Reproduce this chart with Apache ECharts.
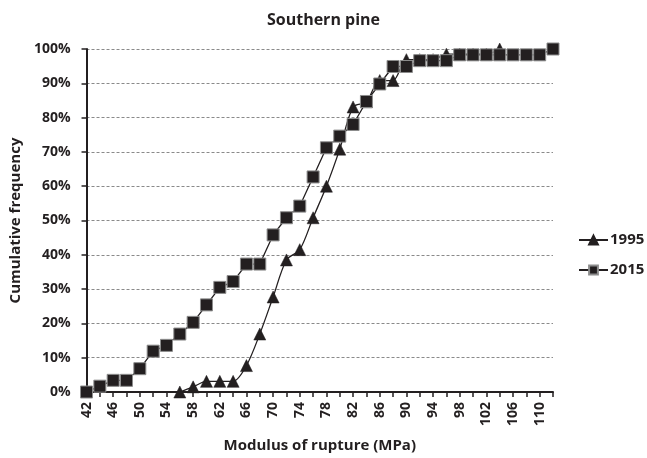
<!DOCTYPE html>
<html><head><meta charset="utf-8">
<script src="https://cdn.jsdelivr.net/npm/echarts@6/dist/echarts.min.js"></script>
<style>html,body{margin:0;padding:0;background:#fff}#c{width:647px;height:458px}</style>
</head><body><div id="c"></div>
<script>
var categories = ['42','44','46','48','50','52','54','56','58','60','62','64','66','68','70','72','74','76','78','80','82','84','86','88','90','92','94','96','98','100','102','104','106','108','110','112'];
// cumulative frequency (%)
var s1995 = [null,null,null,null,null,null,null,0,1.5,3.1,3.1,3.1,7.7,16.9,27.7,38.5,41.5,50.8,60.0,70.8,83.1,84.6,90.8,90.8,96.9,96.9,96.9,98.5,98.5,98.5,98.5,100];
var s2015 = [0,1.7,3.4,3.4,6.8,11.9,13.6,16.9,20.3,25.4,30.5,32.2,37.3,37.3,45.8,50.8,54.2,62.7,71.2,74.6,78.0,84.7,89.8,94.9,94.9,96.6,96.6,96.6,98.3,98.3,98.3,98.3,98.3,98.3,98.3,100];
var yTicks = [0,10,20,30,40,50,60,70,80,90,100];

var FONT = 'Open Sans';
var INK = '#231f20';
var chart = echarts.init(document.getElementById('c'), null, {renderer:'canvas'});
chart.setOption({
  animation:false,
  backgroundColor:'#fff',
  title:{text:'Southern pine', left:'center', top:7, textStyle:{fontFamily:FONT, fontWeight:'bold', fontSize:16, color:INK}},
  grid:{left:85, right:94, top:49, bottom:66, containLabel:false},
  legend:{orient:'vertical', left:578, top:231, padding:0, itemGap:12, itemWidth:29, itemHeight:11,
    textStyle:{fontFamily:FONT, fontWeight:'bold', fontSize:15, color:INK, padding:[0,0,0,-3], lineHeight:18},
    data:['1995','2015']},
  xAxis:{type:'category', data:categories, boundaryGap:false,
    name:'Modulus of rupture (MPa)', nameLocation:'middle', nameGap:46,
    nameTextStyle:{fontFamily:FONT, fontWeight:'bold', fontSize:15, color:INK},
    axisLine:{lineStyle:{color:INK, width:2}},
    axisTick:{show:true, interval:0, length:5, lineStyle:{color:INK, width:1.5}},
    axisLabel:{interval:1, rotate:90, margin:10, fontFamily:FONT, fontWeight:'bold', fontSize:14, color:INK},
    splitLine:{show:false}},
  yAxis:{type:'value', min:yTicks[0], max:yTicks[yTicks.length-1], interval:10,
    name:'Cumulative frequency', nameLocation:'middle', nameGap:63, nameRotate:90,
    nameTextStyle:{fontFamily:FONT, fontWeight:'bold', fontSize:15, color:INK},
    axisLine:{show:true, lineStyle:{color:INK, width:2}},
    axisTick:{show:true, length:5, lineStyle:{color:INK, width:1.5}},
    axisLabel:{margin:16, fontFamily:FONT, fontWeight:'bold', fontSize:14, color:INK, formatter:function(v){return v+'%';}},
    splitLine:{show:true, lineStyle:{color:'#8a8a8a', type:[3,2], width:1}}},
  series:[
    {name:'1995', type:'line', data:s1995, smooth:0.3, showAllSymbol:true, symbol:'triangle', symbolSize:12,
      lineStyle:{color:INK, width:1.3}, itemStyle:{color:INK, borderColor:INK, borderWidth:0.5}, z:2},
    {name:'2015', type:'line', data:s2015, smooth:false, showAllSymbol:true, symbol:'rect', symbolSize:12,
      lineStyle:{color:INK, width:1.3}, itemStyle:{color:INK, borderColor:'#8c8c8c', borderWidth:1}, z:3}
  ]
});
</script></body></html>
